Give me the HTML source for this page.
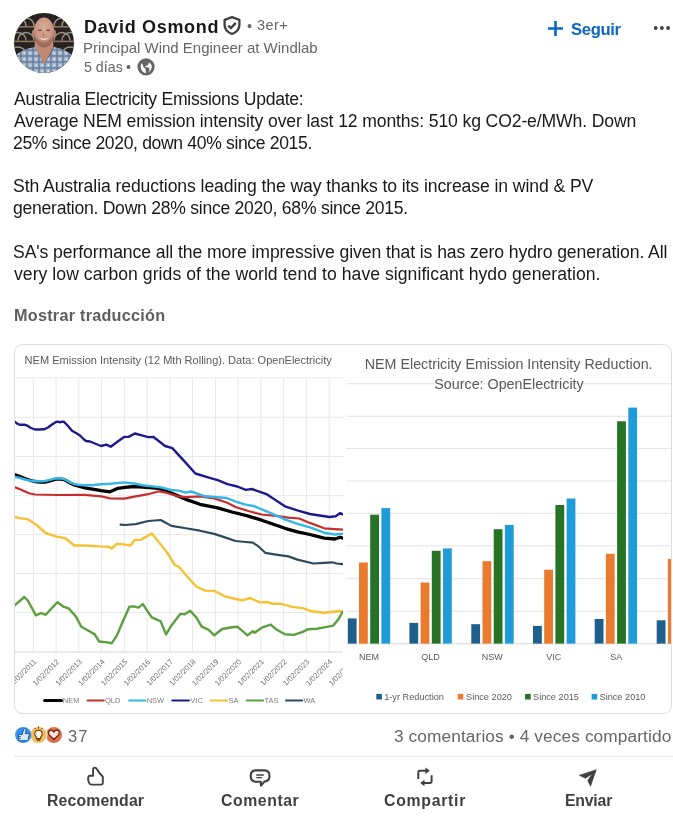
<!DOCTYPE html>
<html><head><meta charset="utf-8">
<style>
html,body{margin:0;padding:0;background:#fff;}
body{-webkit-font-smoothing:antialiased;width:673px;height:827px;position:relative;overflow:hidden;font-family:"Liberation Sans",Arial,sans-serif;color:#191919;}
.a{position:absolute;white-space:nowrap;will-change:transform;}
.name{left:84px;top:14px;font-size:18.7px;font-weight:700;color:#191919;line-height:24px;}
.sub{left:84px;font-size:14.9px;color:#666;line-height:20px;}
.body{font-size:17.6px;line-height:21.86px;color:#191919;}
.more{left:14px;top:304px;font-size:16.5px;font-weight:700;color:#5e5e5e;line-height:22px;}
.act{font-size:15.8px;font-weight:700;color:#404040;line-height:20px;}
</style></head>
<body>
<!-- avatar -->
<svg class="a" style="left:14px;top:13px" width="60" height="60" viewBox="0 0 60 60">
<defs><clipPath id="av"><circle cx="30" cy="30" r="30"/></clipPath>
<radialGradient id="skin" cx="0.5" cy="0.35" r="0.6"><stop offset="0" stop-color="#dcae9c"/><stop offset="0.7" stop-color="#c8927e"/><stop offset="1" stop-color="#a9705f"/></radialGradient>
<pattern id="plaid" width="6" height="6" patternUnits="userSpaceOnUse"><rect width="6" height="6" fill="#a3b6cc"/><rect x="0" y="0" width="2" height="6" fill="#5d7494" opacity="0.6"/><rect x="0" y="0" width="6" height="2" fill="#5d7494" opacity="0.6"/><rect x="3.5" y="3.5" width="1.5" height="1.5" fill="#e3e9f1"/></pattern>
</defs>
<g clip-path="url(#av)">
<rect width="60" height="60" fill="#27221f"/>
<g fill="none" stroke="#a9a397" stroke-width="1.4" opacity="0.9">
<path d="M-4 13 a8 8 0 0 1 16 0 M4 13 a8 8 0 0 1 16 0 M40 13 a8 8 0 0 1 16 0 M48 13 a8 8 0 0 1 16 0"/>
<path d="M-4 27.5 a8 8 0 0 1 16 0 M4 27.5 a8 8 0 0 1 16 0 M40 27.5 a8 8 0 0 1 16 0 M48 27.5 a8 8 0 0 1 16 0"/>
<path d="M-4 42 a8 8 0 0 1 16 0 M48 42 a8 8 0 0 1 16 0"/>
</g>
<rect x="0" y="13" width="60" height="1.6" fill="#8c7660"/>
<rect x="0" y="27.6" width="60" height="1.6" fill="#8c7660"/>
<path d="M21 28 L20.5 34 L30.5 51.5 L39.5 34 L39 28 Z" fill="#bf8975"/>
<path d="M-2 60 L-2 46 Q5 38 14 35.5 L21 34 L30.5 51.5 L40 34 L46 35.5 Q55 38 62 46 L62 60 Z" fill="url(#plaid)"/>
<ellipse cx="19.8" cy="20" rx="1.8" ry="3.2" fill="#b98270"/>
<ellipse cx="40.2" cy="20" rx="1.8" ry="3.2" fill="#b98270"/>
<ellipse cx="30" cy="19.5" rx="10.4" ry="15" fill="url(#skin)"/>
<path d="M21 22 Q21.5 31 26 33.5 Q30 35.2 34 33.5 Q38.5 31 39 22 Q37 29 30 29.5 Q23 29 21 22 Z" fill="#8e6656" opacity="0.55"/>
<path d="M25 25 Q30 29.2 35 25 Q30 26.6 25 25 Z" fill="#f4efe9"/>
<path d="M24.2 17.6 Q26 16.6 27.8 17.6" stroke="#5b3e33" stroke-width="1.1" fill="none"/>
<path d="M32.2 17.6 Q34 16.6 35.8 17.6" stroke="#5b3e33" stroke-width="1.1" fill="none"/>
<path d="M29.5 18.5 L29 23 L31 23" stroke="#a36d5c" stroke-width="0.8" fill="none"/>
</g>
</svg>

<div class="a" style="left:83.9px;top:15.26px;font-size:18px;font-weight:700;line-height:24px;letter-spacing:0.6727px;color:#191919">David Osmond</div>
<!-- shield -->
<svg class="a" style="left:222px;top:15px" width="20" height="21" viewBox="0 0 20 21">
<path d="M10 2.2 L17.4 4.9 V10 Q17.4 16 10 19 Q2.6 16 2.6 10 V4.9 Z" fill="none" stroke="#404040" stroke-width="2.3" stroke-linejoin="round"/>
<path d="M6.3 10.6 L8.9 13.1 L13.8 7.9" fill="none" stroke="#404040" stroke-width="2.4"/>
</svg>
<div class="a" style="left:246.5px;top:16.38px;font-size:14.5px;line-height:20px;color:#666">•</div><div class="a" style="left:256.6px;top:15.38px;font-size:14.5px;line-height:20px;color:#666;letter-spacing:0.4333px">3er+</div>
<div class="a" style="left:82.9px;top:38.3px;font-size:15px;line-height:20px;color:#666;letter-spacing:-0.0121px">Principal Wind Engineer at Windlab</div>
<div class="a" style="left:83.5px;top:57.28px;font-size:14.2px;line-height:20px;color:#666;letter-spacing:0.02px">5 días</div><div class="a" style="left:126.3px;top:57.28px;font-size:14.2px;line-height:20px;color:#666">•</div>
<!-- globe -->
<svg class="a" style="left:136px;top:57px" width="20" height="20" viewBox="136 57 20 20">
<circle cx="146.05" cy="66.85" r="8.6" fill="#666"/>
<path d="M141.7 63.1 Q139.3 67.5 142.2 71 Q143.8 72.7 145.9 73.2 L145.5 68.8 L143.6 67.2 L142.8 64.9 Z" fill="#fff"/>
<path d="M149.2 62.2 Q152 64.5 151.8 67.5 Q151.4 70.8 148.2 72.8 L149 71 L149.7 69.6 L149.3 68.1 L148.3 67.4 L145.3 67.1 L145.3 66.2 L147.2 65.6 L148.2 64.6 Z" fill="#fff"/>
</svg>
<!-- Seguir -->
<svg class="a" style="left:548px;top:21px" width="16" height="15" viewBox="0 0 16 15">
<path d="M0 7.5 H15 M7.5 0 V15" stroke="#0a66c2" stroke-width="2.6"/>
</svg>
<div class="a" style="left:570.6px;top:18.75px;font-size:16.6px;font-weight:700;color:#0a66c2;line-height:22px;letter-spacing:-0.32px">Seguir</div>
<!-- dots -->
<svg class="a" style="left:652px;top:24px" width="20" height="8" viewBox="0 0 20 8">
<circle cx="3.7" cy="4" r="1.9" fill="#404040"/><circle cx="9.9" cy="4" r="1.9" fill="#404040"/><circle cx="16.1" cy="4" r="1.9" fill="#404040"/>
</svg>

<!-- body text -->
<div class="a body" style="left:14px;top:89px;letter-spacing:-0.2763px">Australia Electricity Emissions Update:</div>
<div class="a body" style="left:14px;top:111px;letter-spacing:-0.1233px">Average NEM emission intensity over last 12 months: 510 kg CO2-e/MWh. Down</div>
<div class="a body" style="left:13px;top:133px;letter-spacing:-0.3629px">25% since 2020, down 40% since 2015.</div>
<div class="a body" style="left:13px;top:176px;letter-spacing:-0.0867px">Sth Australia reductions leading the way thanks to its increase in wind &amp; PV</div>
<div class="a body" style="left:13px;top:198px;letter-spacing:-0.2702px">generation. Down 28% since 2020, 68% since 2015.</div>
<div class="a body" style="left:13px;top:242px;letter-spacing:-0.0833px">SA's performance all the more impressive given that is has zero hydro generation. All</div>
<div class="a body" style="left:14px;top:264px;letter-spacing:0.048px">very low carbon grids of the world tend to have significant hydo generation.</div>
<div class="a" style="left:13.5px;top:303.69px;font-size:16.2px;font-weight:700;color:#5e5e5e;line-height:22px;letter-spacing:0.2647px">Mostrar traducción</div>

<!-- CHART -->
<svg class="a" style="left:0;top:0" width="673" height="827" viewBox="0 0 673 827">
<defs><clipPath id="lc"><rect x="15" y="345" width="328" height="368"/></clipPath><clipPath id="rc"><rect x="343" y="345" width="328" height="368"/></clipPath></defs>
<g clip-path="url(#lc)">
<rect x="14" y="344" width="330" height="370" fill="#fff"/>
<text x="24.6" y="364" font-family="Liberation Sans, sans-serif" font-size="11.04" fill="#595959">NEM Emission Intensity (12 Mth Rolling). Data: OpenElectricity</text>
<path d="M15 377.9 H343 M15 417.2 H343 M15 456.5 H343 M15 495.7 H343 M15 534.6 H343 M15 573.5 H343 M15 612.5 H343 M33.30 377.9 V652 M56.06 377.9 V652 M78.82 377.9 V652 M101.58 377.9 V652 M124.34 377.9 V652 M147.10 377.9 V652 M169.86 377.9 V652 M192.62 377.9 V652 M215.38 377.9 V652 M238.14 377.9 V652 M260.90 377.9 V652 M283.66 377.9 V652 M306.42 377.9 V652 M329.18 377.9 V652" stroke="#e8e8e8" stroke-width="1" fill="none"/>
<path d="M15 652 H343" stroke="#d6d6d6" stroke-width="1"/>
<polyline points="15.0,474.8 20.0,476.5 25.0,478.5 30.0,480.3 35.0,481.5 40.0,482.0 45.0,482.2 50.0,481.0 55.0,479.5 58.0,478.8 63.0,479.3 66.0,480.5 70.0,483.0 74.0,484.8 78.0,486.0 85.0,487.8 94.0,489.3 101.0,490.6 110.0,491.8 118.0,488.3 125.0,487.4 133.9,486.5 142.8,487.0 158.9,488.3 166.0,491.0 176.7,495.4 187.4,499.9 199.9,504.3 217.7,507.9 232.0,512.0 247.5,515.8 261.7,520.2 284.9,528.3 297.4,531.8 309.9,534.5 324.2,538.1 334.9,539.0 340.2,537.2 342.9,538.1" fill="none" stroke="#000000" stroke-width="3.3" stroke-linejoin="round" stroke-linecap="round"/>
<polyline points="15.0,487.4 20.0,489.2 25.0,491.4 30.0,493.5 35.0,494.5 58.0,495.0 85.0,494.9 101.0,496.3 110.0,498.4 124.0,498.6 135.7,496.3 148.2,494.2 158.9,491.3 166.0,492.7 178.5,496.3 185.6,497.2 199.9,496.3 214.2,498.4 226.6,502.5 235.6,507.0 249.3,511.3 261.7,514.5 276.0,515.8 288.5,517.6 299.2,518.5 309.9,522.9 324.2,528.3 334.9,529.2 342.9,529.7" fill="none" stroke="#c62d2d" stroke-width="2.2" stroke-linejoin="round" stroke-linecap="round"/>
<polyline points="15.0,476.8 20.0,478.0 25.0,479.5 30.0,480.5 35.0,481.2 40.0,481.3 45.0,481.0 50.0,479.8 55.0,478.5 58.0,478.3 63.0,478.8 66.0,480.0 70.0,482.5 74.0,484.0 78.0,484.8 85.0,485.2 94.0,485.0 101.0,484.2 110.0,483.8 124.0,482.4 133.9,483.5 142.8,485.2 160.7,487.4 171.4,490.0 178.5,490.6 185.6,492.7 191.0,491.5 205.2,496.3 226.6,498.0 235.6,501.6 245.7,504.6 254.6,506.3 270.7,513.1 284.9,519.4 297.4,523.8 309.9,527.4 324.2,532.7 334.9,534.5 342.9,533.6" fill="none" stroke="#35b6e6" stroke-width="2.4" stroke-linejoin="round" stroke-linecap="round"/>
<polyline points="15.0,421.8 17.0,423.5 20.0,424.8 25.0,424.8 27.0,425.5 31.0,428.0 35.0,429.5 39.0,429.5 44.0,429.3 48.0,427.5 52.0,424.5 56.0,422.0 58.0,421.6 60.0,422.3 62.0,421.6 64.0,421.8 68.0,426.0 72.0,430.8 76.0,433.0 80.0,435.5 84.0,439.5 86.0,441.0 90.0,441.5 101.0,446.0 106.3,444.6 110.7,446.7 118.8,440.7 124.1,436.9 128.6,436.9 134.8,433.5 142.8,435.7 148.2,437.1 153.5,437.0 165.1,446.0 172.3,448.1 183.8,460.6 195.4,473.5 208.8,477.6 217.7,480.2 227.5,484.2 237.3,486.5 245.7,489.9 251.9,489.0 267.1,494.4 284.9,506.3 297.4,510.4 309.9,514.0 329.5,517.0 335.7,516.3 340.2,513.1 342.9,514.5" fill="none" stroke="#1c1a8e" stroke-width="2.4" stroke-linejoin="round" stroke-linecap="round"/>
<polyline points="15.0,516.9 20.7,518.4 27.8,519.3 36.7,525.0 45.7,533.0 56.4,536.6 65.3,538.3 74.2,545.5 84.9,545.5 99.2,546.4 109.0,546.7 111.6,548.5 117.0,543.7 125.0,544.6 130.3,545.5 134.8,540.1 141.0,539.6 146.4,536.6 151.7,533.5 160.7,544.6 167.8,553.5 174.9,565.1 178.5,566.3 187.4,576.7 196.3,586.5 205.2,590.6 214.2,590.9 224.9,596.3 235.6,599.0 242.1,600.3 250.2,598.0 260.0,602.4 268.0,602.1 272.4,603.8 281.4,603.8 292.1,606.9 302.8,608.1 311.7,611.3 324.2,612.8 333.1,611.7 339.3,611.0 342.9,612.2" fill="none" stroke="#f4c232" stroke-width="2.4" stroke-linejoin="round" stroke-linecap="round"/>
<polyline points="15.0,605.0 24.3,597.0 27.8,600.5 35.9,615.3 41.2,613.0 45.7,614.8 57.3,602.3 63.5,606.7 68.8,608.5 76.0,616.6 81.3,626.7 88.5,630.8 94.7,634.4 99.2,641.5 107.2,642.4 111.6,643.3 117.0,635.3 122.3,622.8 129.5,606.6 133.9,606.4 138.4,607.6 142.8,604.1 151.7,617.4 160.7,621.4 166.0,634.4 171.4,625.5 180.3,613.9 184.7,614.2 190.1,610.7 196.3,617.4 201.7,626.7 208.8,629.9 214.2,635.3 222.2,629.0 232.0,627.3 237.3,626.7 240.3,629.2 247.5,635.4 252.8,631.3 254.6,632.7 261.7,627.7 270.7,624.7 276.0,629.2 284.9,634.2 293.8,634.9 302.8,631.8 308.1,629.2 317.0,628.8 324.2,627.4 333.1,625.6 338.4,619.4 342.9,611.3" fill="none" stroke="#5c9f3e" stroke-width="2.4" stroke-linejoin="round" stroke-linecap="round"/>
<polyline points="120.6,524.6 125.0,525.0 135.7,524.1 148.2,521.0 160.7,520.0 171.4,525.9 187.4,528.5 199.9,530.7 214.2,533.9 224.9,537.4 235.6,541.0 245.7,542.0 252.8,542.7 258.2,546.2 265.3,552.8 274.2,554.3 288.5,556.4 297.4,559.6 313.5,563.5 324.2,562.8 332.2,562.3 336.6,563.5 342.9,564.1" fill="none" stroke="#2d4a5e" stroke-width="2.2" stroke-linejoin="round" stroke-linecap="round"/>
<text transform="translate(36.90,662.3) rotate(-45)" text-anchor="end" font-family="Liberation Sans, sans-serif" font-size="7.6" fill="#6e6e6e">1/02/2011</text>
<text transform="translate(59.66,662.3) rotate(-45)" text-anchor="end" font-family="Liberation Sans, sans-serif" font-size="7.6" fill="#6e6e6e">1/02/2012</text>
<text transform="translate(82.42,662.3) rotate(-45)" text-anchor="end" font-family="Liberation Sans, sans-serif" font-size="7.6" fill="#6e6e6e">1/02/2013</text>
<text transform="translate(105.18,662.3) rotate(-45)" text-anchor="end" font-family="Liberation Sans, sans-serif" font-size="7.6" fill="#6e6e6e">1/02/2014</text>
<text transform="translate(127.94,662.3) rotate(-45)" text-anchor="end" font-family="Liberation Sans, sans-serif" font-size="7.6" fill="#6e6e6e">1/02/2015</text>
<text transform="translate(150.70,662.3) rotate(-45)" text-anchor="end" font-family="Liberation Sans, sans-serif" font-size="7.6" fill="#6e6e6e">1/02/2016</text>
<text transform="translate(173.46,662.3) rotate(-45)" text-anchor="end" font-family="Liberation Sans, sans-serif" font-size="7.6" fill="#6e6e6e">1/02/2017</text>
<text transform="translate(196.22,662.3) rotate(-45)" text-anchor="end" font-family="Liberation Sans, sans-serif" font-size="7.6" fill="#6e6e6e">1/02/2018</text>
<text transform="translate(218.98,662.3) rotate(-45)" text-anchor="end" font-family="Liberation Sans, sans-serif" font-size="7.6" fill="#6e6e6e">1/02/2019</text>
<text transform="translate(241.74,662.3) rotate(-45)" text-anchor="end" font-family="Liberation Sans, sans-serif" font-size="7.6" fill="#6e6e6e">1/02/2020</text>
<text transform="translate(264.50,662.3) rotate(-45)" text-anchor="end" font-family="Liberation Sans, sans-serif" font-size="7.6" fill="#6e6e6e">1/02/2021</text>
<text transform="translate(287.26,662.3) rotate(-45)" text-anchor="end" font-family="Liberation Sans, sans-serif" font-size="7.6" fill="#6e6e6e">1/02/2022</text>
<text transform="translate(310.02,662.3) rotate(-45)" text-anchor="end" font-family="Liberation Sans, sans-serif" font-size="7.6" fill="#6e6e6e">1/02/2023</text>
<text transform="translate(332.78,662.3) rotate(-45)" text-anchor="end" font-family="Liberation Sans, sans-serif" font-size="7.6" fill="#6e6e6e">1/02/2024</text>
<text transform="translate(355.54,662.3) rotate(-45)" text-anchor="end" font-family="Liberation Sans, sans-serif" font-size="7.6" fill="#6e6e6e">1/02/2025</text>
<path d="M44.6 700.6 H61.5" stroke="#000000" stroke-width="3" stroke-linecap="round"/>
<text x="62.8" y="703.3" font-family="Liberation Sans, sans-serif" font-size="7.5" fill="#7a7a7a">NEM</text>
<path d="M87.5 700.6 H103.7" stroke="#c62d2d" stroke-width="2" stroke-linecap="round"/>
<text x="105.0" y="703.3" font-family="Liberation Sans, sans-serif" font-size="7.5" fill="#7a7a7a">QLD</text>
<path d="M129.2 700.6 H145.4" stroke="#35b6e6" stroke-width="2" stroke-linecap="round"/>
<text x="146.70000000000002" y="703.3" font-family="Liberation Sans, sans-serif" font-size="7.5" fill="#7a7a7a">NSW</text>
<path d="M172.3 700.6 H189" stroke="#1c1a8e" stroke-width="2" stroke-linecap="round"/>
<text x="190.3" y="703.3" font-family="Liberation Sans, sans-serif" font-size="7.5" fill="#7a7a7a">VIC</text>
<path d="M210.6 700.6 H227.3" stroke="#f4c232" stroke-width="2" stroke-linecap="round"/>
<text x="228.60000000000002" y="703.3" font-family="Liberation Sans, sans-serif" font-size="7.5" fill="#7a7a7a">SA</text>
<path d="M246.7 700.6 H263.1" stroke="#5c9f3e" stroke-width="2" stroke-linecap="round"/>
<text x="264.40000000000003" y="703.3" font-family="Liberation Sans, sans-serif" font-size="7.5" fill="#7a7a7a">TAS</text>
<path d="M286 700.6 H302.2" stroke="#2d4a5e" stroke-width="2" stroke-linecap="round"/>
<text x="303.5" y="703.3" font-family="Liberation Sans, sans-serif" font-size="7.5" fill="#7a7a7a">WA</text>
</g>
<g clip-path="url(#rc)">
<rect x="343" y="345" width="330" height="370" fill="#fff"/>
<path d="M346.4 383.8 H671 M346.4 416.2 H671 M346.4 448.6 H671 M346.4 481.0 H671 M346.4 513.3 H671 M346.4 545.9 H671 M346.4 578.7 H671 M346.4 611.2 H671" stroke="#e3e3e3" stroke-width="1"/>
<path d="M346.4 643.8 H671" stroke="#d6d6d6" stroke-width="1"/>
<text x="508.7" y="368.7" text-anchor="middle" font-family="Liberation Sans, sans-serif" font-size="14.28" fill="#595959">NEM Electricity Emission Intensity Reduction.</text>
<text x="509" y="388.5" text-anchor="middle" font-family="Liberation Sans, sans-serif" font-size="14.3" fill="#595959">Source: OpenElectricity</text>
<rect x="347.8" y="618.4" width="8.8" height="25.2" fill="#1f5f8b"/>
<rect x="359.0" y="562.5" width="8.8" height="81.1" fill="#e97a2f"/>
<rect x="370.2" y="514.7" width="8.8" height="128.9" fill="#267326"/>
<rect x="381.4" y="508.1" width="8.8" height="135.5" fill="#1f9bd7"/>
<rect x="409.4" y="622.9" width="8.8" height="20.7" fill="#1f5f8b"/>
<rect x="420.6" y="582.5" width="8.8" height="61.1" fill="#e97a2f"/>
<rect x="431.8" y="550.8" width="8.8" height="92.8" fill="#267326"/>
<rect x="443.0" y="548.4" width="8.8" height="95.2" fill="#1f9bd7"/>
<rect x="471.3" y="624.2" width="8.8" height="19.4" fill="#1f5f8b"/>
<rect x="482.5" y="561.2" width="8.8" height="82.4" fill="#e97a2f"/>
<rect x="493.7" y="529.2" width="8.8" height="114.4" fill="#267326"/>
<rect x="504.9" y="524.9" width="8.8" height="118.7" fill="#1f9bd7"/>
<rect x="533.0" y="625.9" width="8.8" height="17.7" fill="#1f5f8b"/>
<rect x="544.2" y="569.7" width="8.8" height="73.9" fill="#e97a2f"/>
<rect x="555.4" y="505.0" width="8.8" height="138.6" fill="#267326"/>
<rect x="566.6" y="498.5" width="8.8" height="145.1" fill="#1f9bd7"/>
<rect x="594.7" y="619.0" width="8.8" height="24.6" fill="#1f5f8b"/>
<rect x="605.9" y="553.8" width="8.8" height="89.8" fill="#e97a2f"/>
<rect x="617.1" y="421.3" width="8.8" height="222.3" fill="#267326"/>
<rect x="628.3" y="407.6" width="8.8" height="236.0" fill="#1f9bd7"/>
<rect x="656.7" y="620.3" width="8.8" height="23.3" fill="#1f5f8b"/>
<rect x="667.9" y="559.0" width="8.8" height="84.6" fill="#e97a2f"/>
<rect x="679.1" y="450" width="8.8" height="193.6" fill="#267326"/>
<rect x="690.3" y="440" width="8.8" height="203.6" fill="#1f9bd7"/>
<text x="368.9" y="660" text-anchor="middle" font-family="Liberation Sans, sans-serif" font-size="9" fill="#595959">NEM</text>
<text x="430.5" y="660" text-anchor="middle" font-family="Liberation Sans, sans-serif" font-size="9" fill="#595959">QLD</text>
<text x="492.3" y="660" text-anchor="middle" font-family="Liberation Sans, sans-serif" font-size="9" fill="#595959">NSW</text>
<text x="553.8" y="660" text-anchor="middle" font-family="Liberation Sans, sans-serif" font-size="9" fill="#595959">VIC</text>
<text x="616.3" y="660" text-anchor="middle" font-family="Liberation Sans, sans-serif" font-size="9" fill="#595959">SA</text>
<rect x="376.3" y="693.9" width="5.6" height="5.6" fill="#1f5f8b"/>
<text x="384.2" y="700" font-family="Liberation Sans, sans-serif" font-size="9.2" fill="#595959">1-yr Reduction</text>
<rect x="457.7" y="693.9" width="5.6" height="5.6" fill="#e97a2f"/>
<text x="466" y="700" font-family="Liberation Sans, sans-serif" font-size="9.2" fill="#595959">Since 2020</text>
<rect x="525.1" y="693.9" width="5.6" height="5.6" fill="#267326"/>
<text x="533" y="700" font-family="Liberation Sans, sans-serif" font-size="9.2" fill="#595959">Since 2015</text>
<rect x="591.6" y="693.9" width="5.6" height="5.6" fill="#1f9bd7"/>
<text x="599.5" y="700" font-family="Liberation Sans, sans-serif" font-size="9.2" fill="#595959">Since 2010</text>
</g>
<rect x="14.5" y="344.5" width="657" height="369" rx="8" ry="8" fill="none" stroke="#dcdcdc" stroke-width="1"/>
</svg>
<!-- reactions -->
<svg class="a" style="left:14px;top:725px" width="52" height="20" viewBox="0 0 52 20">
<circle cx="39.9" cy="10" r="9" fill="#fff"/>
<circle cx="39.9" cy="10" r="8.1" fill="#df704d"/>
<path transform="translate(39.9 10) scale(0.84) translate(-39.9 -10)" d="M39.9 15.4 L34.5 10.1 Q32.6 7.8 33.9 5.6 Q35.9 3.4 38.4 4.9 Q39.4 5.6 39.9 6.6 Q40.4 5.6 41.4 4.9 Q43.9 3.4 45.9 5.6 Q47.2 7.8 45.3 10.1 Z" fill="#fde4dc" stroke="#6b1d0e" stroke-width="1.5" stroke-linejoin="round"/>
<circle cx="24.5" cy="10" r="9" fill="#fff"/>
<circle cx="24.5" cy="10" r="8.1" fill="#f5bb5c"/>
<path d="M24.5 5.2 Q28.2 5.2 28.2 8.9 Q28.2 10.8 26.6 12.2 V13.6 H22.4 V12.2 Q20.8 10.8 20.8 8.9 Q20.8 5.2 24.5 5.2 Z" fill="#fff3df" stroke="#5b3b0b" stroke-width="1.1"/>
<rect x="22.8" y="14.3" width="3.4" height="1.5" fill="#5b3b0b"/>
<path d="M24.5 1.6 V3.4 M20.5 2.8 L21.5 4.1 M28.5 2.8 L27.5 4.1" stroke="#5b3b0b" stroke-width="1"/>
<circle cx="9.2" cy="10" r="8.1" fill="#378fe9"/>
<path d="M4.6 9.4 H8.2 L9.7 4.4 Q10.1 3.3 11.1 3.6 Q12.1 4 11.9 5.4 L11.4 8.6 H14.3 Q15.5 8.8 15.2 10.1 L14.2 14.6 Q13.9 15.7 12.8 15.7 H4.6 Z" fill="#d6e9fb" stroke="#0b4f9c" stroke-width="0.9" stroke-linejoin="round"/>
<path d="M4.6 11.5 H7 M4.6 13.5 H7" stroke="#0b4f9c" stroke-width="0.7"/>
</svg>
<div class="a" style="left:67.8px;top:724.68px;font-size:16.5px;color:#666;line-height:22px;letter-spacing:1.1px">37</div>
<div class="a" style="left:394.2px;top:724.61px;font-size:17.3px;color:#666;line-height:22px;letter-spacing:0.097px">3 comentarios • 4 veces compartido</div>
<div class="a" style="left:14px;top:755.8px;width:659px;height:1px;background:#e8e8e8"></div>

<!-- actions -->
<svg class="a" style="left:86px;top:766px" width="19" height="20" viewBox="86 766 19 20">
<path d="M93.2 775.8 L93 770 Q93 767.6 95 767.6 Q96.4 767.8 97.3 769.8 Q99 773 102.8 776.6 L102.8 783.3 Q102.6 784.6 101.2 784.6 L91.5 784.6 Q89.6 784.4 89 782.7 L88.1 779.8 L88.3 777.2 Q88.5 775.8 89.8 775.8 Z" fill="none" stroke="#404040" stroke-width="1.9" stroke-linejoin="round"/>
</svg>
<div class="a act" style="left:47px;top:790.73px;letter-spacing:0.1444px">Recomendar</div>

<svg class="a" style="left:248px;top:767px" width="24" height="22" viewBox="248 767 24 22">
<path d="M255.6 770.4 H264.4 Q269.5 770.6 269.5 776 Q269.5 781 264.4 781.6 L261 785.6 L260.7 781.7 H255.6 Q250.7 781.3 250.7 776 Q250.7 770.6 255.6 770.4 Z" fill="none" stroke="#404040" stroke-width="2.1" stroke-linejoin="round"/>
<path d="M256.3 775 H263.8 M256.3 777.7 H262" stroke="#404040" stroke-width="1.3"/>
</svg>
<div class="a act" style="left:220.9px;top:790.73px;letter-spacing:0.5714px">Comentar</div>

<svg class="a" style="left:415px;top:765px" width="20" height="24" viewBox="415 765 20 24">
<path d="M418.3 779 V772.2 Q418.3 770.7 419.8 770.7 H428.5" fill="none" stroke="#404040" stroke-width="2"/>
<path d="M425.3 767.4 L429.8 770.7 L425.3 774 Z" fill="#404040"/>
<path d="M431.6 775.2 V781.6 Q431.6 783 430.1 783 H421.6" fill="none" stroke="#404040" stroke-width="2"/>
<path d="M424.5 779.8 L420.3 783 L424.5 786.3 Z" fill="#404040"/>
</svg>
<div class="a act" style="left:384.1px;top:790.73px;letter-spacing:0.725px">Compartir</div>

<svg class="a" style="left:578px;top:768px" width="20" height="20" viewBox="578 768 20 20">
<path d="M596.3 769.7 L579.3 775.3 L585.4 778.3 L592.2 773.9 L587.7 780.6 L590.5 786.3 Z" fill="#404040" stroke="#404040" stroke-width="0.6" stroke-linejoin="round"/>
</svg>
<div class="a act" style="left:565.4px;top:790.73px;letter-spacing:-0.2px">Enviar</div>
</body></html>
